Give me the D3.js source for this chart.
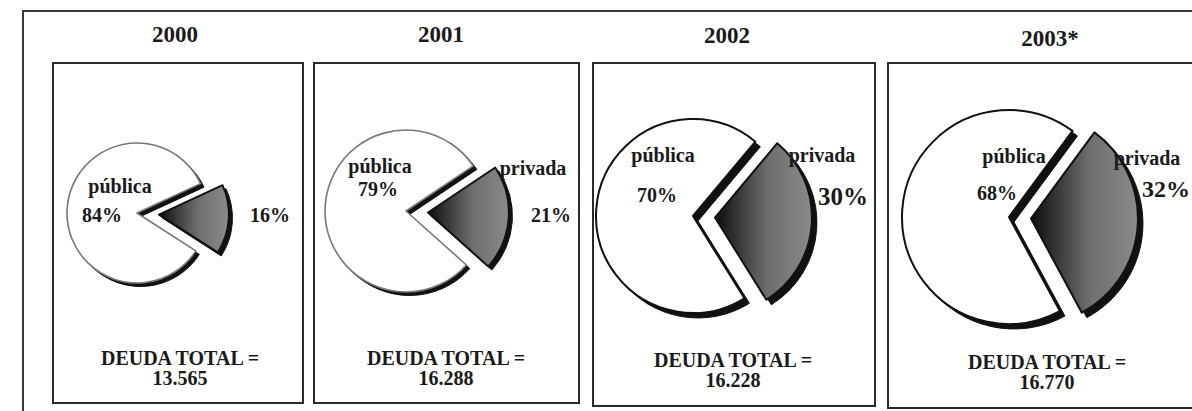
<!DOCTYPE html>
<html>
<head>
<meta charset="utf-8">
<script src="https://cdn.jsdelivr.net/npm/d3@7"></script>
<style>
  html, body { margin: 0; padding: 0; background: #fff; }
  svg { display: block; }
  text { font-family: "Liberation Serif", "Times New Roman", serif; font-weight: bold; fill: #1a1a1a; }
</style>
</head>
<body>
<svg id="chart" width="1192" height="411"></svg>
<script>
// Composición de la deuda total por año: pública vs privada
const years = ["2000", "2001", "2002", "2003*"];
const publicShare = [84, 79, 70, 68];
const privateShare = [16, 21, 30, 32];
const totalDebt = ["13.565", "16.288", "16.228", "16.770"];
const sliceNames = ["pública", "privada"];

// Panel layout (frames, pie placement, label anchors)
const layout = [
  { box: [53, 63, 303, 403], title: [175, 42], cx: 137, cy: 213, r: 70, line: "#777", lw: 1.6, sh: 3.5,
    pubName: [120, 193], pubPct: [102, 222], privName: null, privPct: [270, 222], privSize: 20, total: [180, 365] },
  { box: [314, 63, 579, 403], title: [441, 42], cx: 406, cy: 211, r: 81, line: "#777", lw: 1.6, sh: 3.5,
    pubName: [380, 173], pubPct: [378, 196], privName: [533, 175], privPct: [551, 222], privSize: 20, total: [446, 365] },
  { box: [593, 63, 875, 406], title: [727, 43], cx: 693, cy: 216, r: 97, line: "#111", lw: 2, sh: 5,
    pubName: [663, 162], pubPct: [657, 202], privName: [822, 162], privPct: [843, 205], privSize: 25, total: [733, 367] },
  { box: [888, 63, 1200, 408], title: [1050, 46], cx: 1009, cy: 217, r: 107, line: "#111", lw: 2, sh: 5,
    pubName: [1014, 163], pubPct: [997, 200], privName: [1147, 165], privPct: [1166, 197], privSize: 24, total: [1047, 369] }
];

const rotation = 94 * Math.PI / 180; // bisector of the private slice, clockwise from 12 o'clock
const explode = 22;

const svg = d3.select("#chart");

// Gradient for the private slice: dark at the tip, mid-grey at the rim
const defs = svg.append("defs");
const grad = defs.append("linearGradient").attr("id", "privGrad")
  .attr("x1", "0%").attr("y1", "0%").attr("x2", "100%").attr("y2", "0%");
grad.append("stop").attr("offset", "0%").attr("stop-color", "#0d0d0d");
grad.append("stop").attr("offset", "55%").attr("stop-color", "#6e6e6e");
grad.append("stop").attr("offset", "100%").attr("stop-color", "#8a8a8a");

// Outer frame (open at right and bottom)
svg.append("path")
  .attr("d", "M23,411 V11 H1192")
  .attr("fill", "none").attr("stroke", "#3a3a3a").attr("stroke-width", 2);

years.forEach((year, i) => {
  const L = layout[i];
  const g = svg.append("g");

  // Panel box
  g.append("rect")
    .attr("x", L.box[0]).attr("y", L.box[1])
    .attr("width", L.box[2] - L.box[0]).attr("height", L.box[3] - L.box[1])
    .attr("fill", "none").attr("stroke", "#2a2a2a").attr("stroke-width", 2);

  // Year title
  svg.append("text").attr("x", L.title[0]).attr("y", L.title[1])
    .attr("text-anchor", "middle").attr("font-size", 23).text(year);

  const values = [
    { name: sliceNames[1], v: privateShare[i] },
    { name: sliceNames[0], v: publicShare[i] }
  ];
  const a0 = rotation - (privateShare[i] / 100) * Math.PI;
  const pie = d3.pie().sort(null).value(d => d.v).startAngle(a0).endAngle(a0 + 2 * Math.PI);
  const arcs = pie(values);
  const arc = d3.arc().innerRadius(0).outerRadius(L.r);

  const priv = arcs[0], pub = arcs[1];
  const mid = (priv.startAngle + priv.endAngle) / 2;
  const ex = Math.sin(mid) * explode, ey = -Math.cos(mid) * explode;

  const pg = g.append("g").attr("transform", `translate(${L.cx},${L.cy})`);

  // Public slice with its dark side
  pg.append("path").attr("d", arc(pub))
    .attr("transform", `translate(${L.sh},${L.sh})`)
    .attr("fill", "#111").attr("stroke", "#111").attr("stroke-width", 1);
  pg.append("path").attr("d", arc(pub))
    .attr("fill", "#fff").attr("stroke", L.line).attr("stroke-width", L.lw)
    .attr("stroke-linejoin", "round");

  // Labels on the public slice and beside the private slice
  g.append("text").attr("x", L.pubName[0]).attr("y", L.pubName[1])
    .attr("text-anchor", "middle").attr("font-size", 20).text(sliceNames[0]);
  g.append("text").attr("x", L.pubPct[0]).attr("y", L.pubPct[1])
    .attr("text-anchor", "middle").attr("font-size", 20).text(publicShare[i] + "%");
  if (L.privName) {
    g.append("text").attr("x", L.privName[0]).attr("y", L.privName[1])
      .attr("text-anchor", "middle").attr("font-size", 20).text(sliceNames[1]);
  }
  g.append("text").attr("x", L.privPct[0]).attr("y", L.privPct[1])
    .attr("text-anchor", "middle").attr("font-size", L.privSize).text(privateShare[i] + "%");

  // Exploded private slice with its dark side
  const xg = pg.append("g").attr("transform", `translate(${ex},${ey})`);
  xg.append("path").attr("d", arc(priv))
    .attr("transform", `translate(${L.sh},${L.sh})`)
    .attr("fill", "#111").attr("stroke", "#111").attr("stroke-width", 1);
  xg.append("path").attr("d", arc(priv))
    .attr("fill", "url(#privGrad)").attr("stroke", "#111").attr("stroke-width", 2)
    .attr("stroke-linejoin", "round");

  // Total debt caption
  g.append("text").attr("x", L.total[0]).attr("y", L.total[1])
    .attr("text-anchor", "middle").attr("font-size", 20).text("DEUDA TOTAL =");
  g.append("text").attr("x", L.total[0]).attr("y", L.total[1] + 20)
    .attr("text-anchor", "middle").attr("font-size", 20).text(totalDebt[i]);
});
</script>
</body>
</html>
